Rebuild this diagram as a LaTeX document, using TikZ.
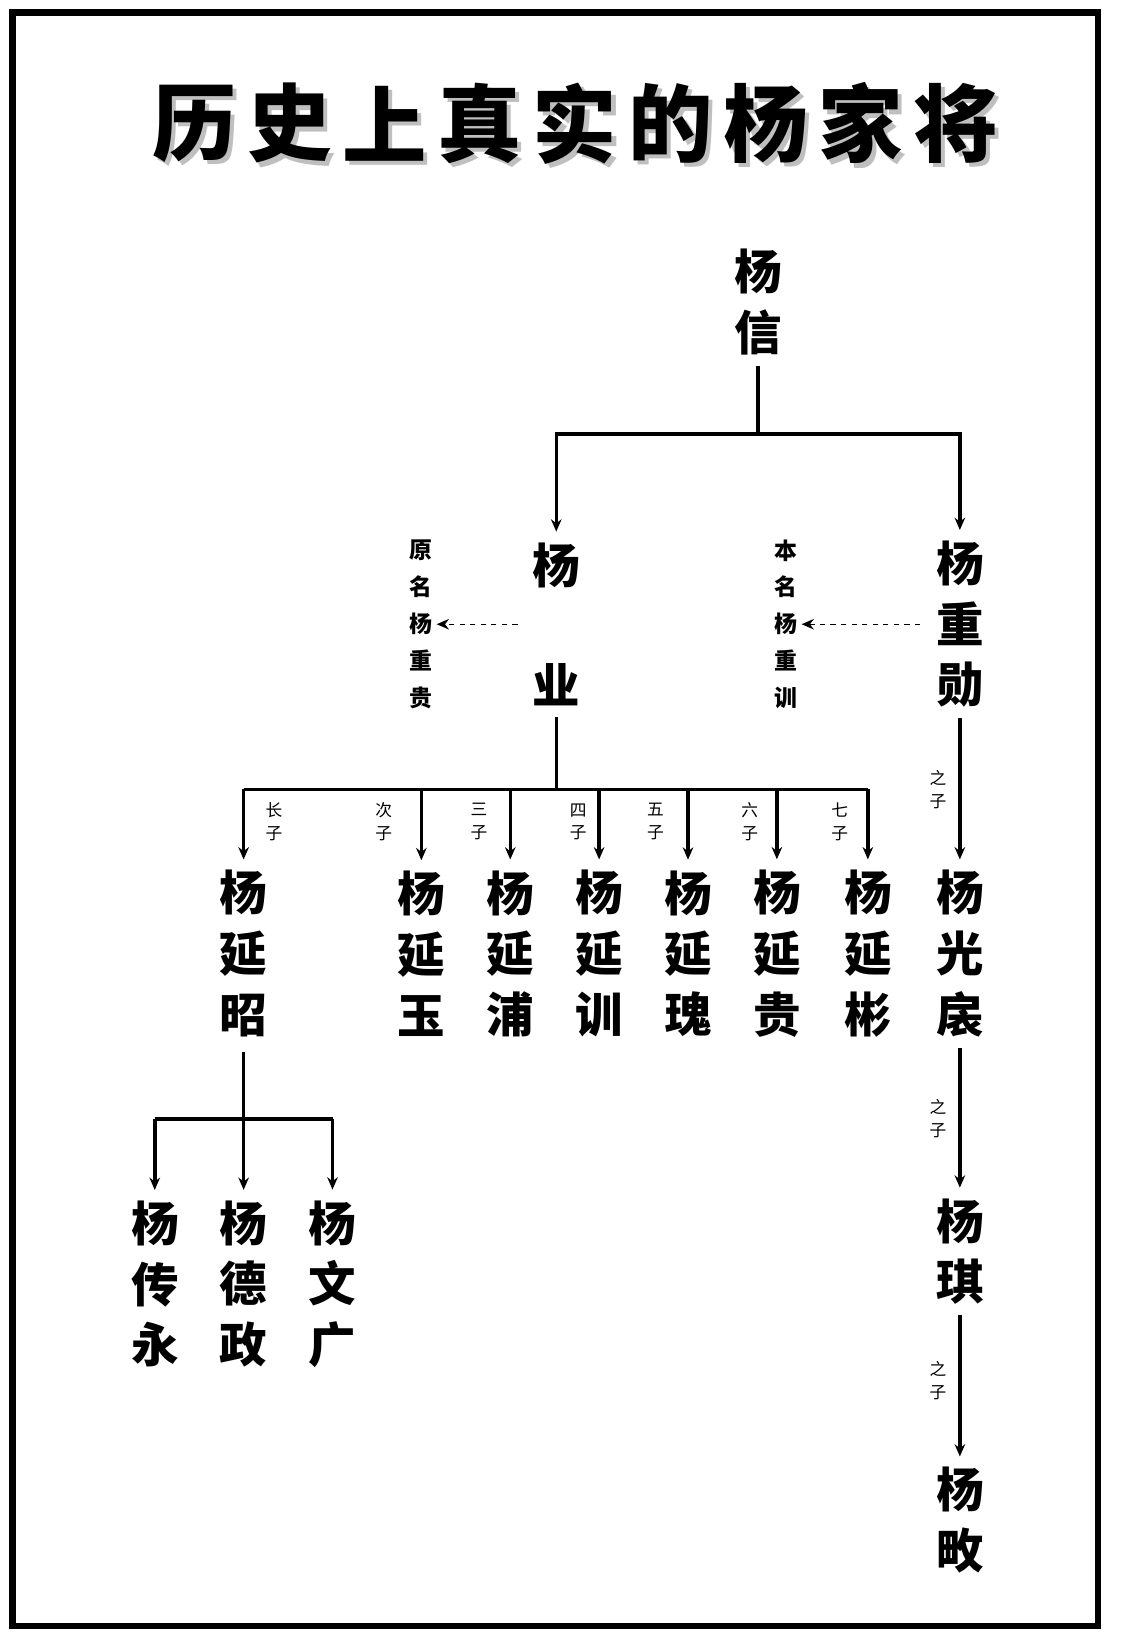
\documentclass[tikz,border=0pt]{standalone}
\usepackage{fontspec}
\newfontfamily\cjk{Noto Sans CJK SC}
\usetikzlibrary{positioning}
\usetikzlibrary{arrows.meta}
\tikzset{>={Stealth[length=7pt,width=6pt]}}
\tikzset{who/.style={font=\cjk\bfseries\fontsize{27}{34.5}\selectfont, align=center, inner sep=0pt}}
\tikzset{memo/.style={font=\cjk\bfseries\fontsize{13}{21}\selectfont, align=center, inner sep=0pt}}
\tikzset{son/.style={font=\cjk\fontsize{9.5}{13}\selectfont, align=center, inner sep=0pt}}
\tikzset{ln/.style={line width=2pt}}
\begin{document}
\begin{tikzpicture}[x=0.0209cm, y=-0.0209cm]
\useasboundingbox (0,0) rectangle (1075,1579);
\fill[white] (0,0) rectangle (1075,1579);
\draw[line width=3.5pt] (12,12) rectangle (1050,1555);

% title
\foreach \c [count=\i from 0] in {历,史,上,真,实,的,杨,家,将}
  \node[font=\cjk\bfseries\fontsize{48}{48}\selectfont, text=gray!50] at (186+\i*91+4, 122) {\c};
\foreach \c [count=\i from 0] in {历,史,上,真,实,的,杨,家,将}
  \node[font=\cjk\bfseries\fontsize{48}{48}\selectfont] (t\i) at (186+\i*91, 118) {\c};

% first generations
\node[who] (xin) at (725, 289) {杨\\信};
\node[who] (ye) at (532, 597) {杨\\[34pt]业};
\node[who] (zx) at (918, 597) {杨\\重\\勋};
\node[memo] (ye note) at (403, 597) {原\\名\\杨\\重\\贵};
\node[memo] (zx note) at (752, 597) {本\\名\\杨\\重\\训};

\coordinate (xin j) at (725, 415);
\draw[ln] (xin.south) ++(0,10) -- (xin j);
\draw[ln,->] (xin j) -| ([yshift=6pt]ye.north);
\draw[ln,->] (xin j) -| ([yshift=6pt]zx.north);
\draw[dashed,thick,->] (495,597) -- ([xshift=2pt]ye note.east);
\draw[dashed,thick,->] (880,597) -- ([xshift=2pt]zx note.east);

% sons of yang ye
\node[who] (yz) at (233, 912) {杨\\延\\昭};
\node[who] (yy) at (403, 912) {杨\\延\\玉};
\node[who] (yp) at (488, 912) {杨\\延\\浦};
\node[who] (yx) at (573, 912) {杨\\延\\训};
\node[who] (yw) at (658, 912) {杨\\延\\瑰};
\node[who] (yg) at (743, 912) {杨\\延\\贵};
\node[who] (yb) at (830, 912) {杨\\延\\彬};
\node[who] (gc) at (918, 912) {杨\\光\\扆};

\coordinate (ye j) at (532, 755);
\draw[ln] (ye.south) ++(0,10) -- (ye j);
\draw[ln] (233,755) -- (830,755);
\foreach \n in {yz,yy,yp,yx,yw,yg,yb}
  \draw[ln,->] (\n.north |- ye j) -- ([yshift=6pt]\n.north);
\foreach \x/\t in {262/长,367/次,458/三,553/四,627/五,717/六,803/七}
  \node[son] at (\x, 786) {\t\\子};

% yang yanzhao's sons
\node[who] (cy) at (148, 1228) {杨\\传\\永};
\node[who] (dz) at (233, 1228) {杨\\德\\政};
\node[who] (wg) at (318, 1228) {杨\\文\\广};
\coordinate (yz j) at (233, 1070);
\draw[ln] (yz.south) ++(0,14) -- (yz j);
\draw[ln] (148,1070) -- (318,1070);
\foreach \n in {cy,dz,wg}
  \draw[ln,->] (\n.north |- yz j) -- ([yshift=6pt]\n.north);

% line of yang chongxun
\node[who] (qi) at (918, 1197) {杨\\琪};
\node[who] (tian) at (918, 1454) {杨\\畋};
\draw[ln,->] (zx.south) ++(0,10) -- ([yshift=6pt]gc.north);
\draw[ln,->] (gc.south) ++(0,10) -- ([yshift=6pt]qi.north);
\draw[ln,->] (qi.south) ++(0,10) -- ([yshift=6pt]tian.north);
\node[son] at (897, 755) {之\\子};
\node[son] at (897, 1070) {之\\子};
\node[son] at (897, 1320) {之\\子};
\end{tikzpicture}
\end{document}
